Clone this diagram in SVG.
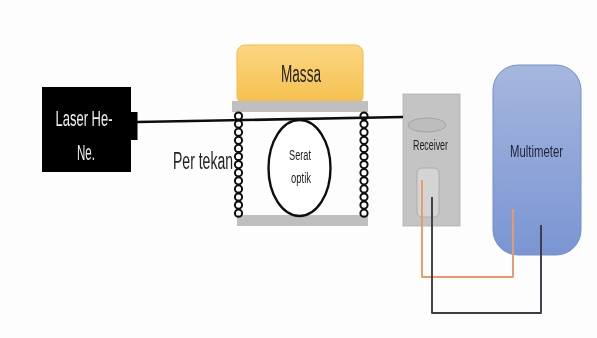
<svg xmlns="http://www.w3.org/2000/svg" width="597" height="338" viewBox="0 0 597 338">
<style>
text{font-family:"Liberation Sans",Arial,sans-serif;text-anchor:middle;fill:#222}
.plate{fill:#bfbfbf}
.coil{fill:none;stroke:#111;stroke-width:2}
.wire{fill:none;stroke-width:1.9;stroke-linejoin:round}
</style>
<defs>
<linearGradient id="mass" x1="0" y1="0" x2="0" y2="1"><stop offset="0" stop-color="#fbd681"/><stop offset="1" stop-color="#f6c04f"/></linearGradient>
<linearGradient id="multi" x1="0" y1="0" x2="0" y2="1"><stop offset="0" stop-color="#a6b7de"/><stop offset="1" stop-color="#7a95d3"/></linearGradient>
<filter id="soft" x="-5%" y="-5%" width="110%" height="110%"><feGaussianBlur stdDeviation="0.45"/></filter>
<g id="coilL">
<circle class="coil" cx="0" cy="0" r="3.6"/><circle class="coil" cx="0" cy="8.1" r="3.6"/><circle class="coil" cx="0" cy="16.2" r="3.6"/><circle class="coil" cx="0" cy="24.3" r="3.6"/><circle class="coil" cx="0" cy="32.4" r="3.6"/><circle class="coil" cx="0" cy="40.5" r="3.6"/><circle class="coil" cx="0" cy="48.6" r="3.6"/><circle class="coil" cx="0" cy="56.7" r="3.6"/><circle class="coil" cx="0" cy="64.8" r="3.6"/><circle class="coil" cx="0" cy="72.9" r="3.6"/><circle class="coil" cx="0" cy="81" r="3.6"/><circle class="coil" cx="0" cy="89.1" r="3.6"/><circle class="coil" cx="0" cy="97.2" r="3.6"/>
</g>
</defs>
<rect width="597" height="338" fill="#fdfdfd"/>
<g filter="url(#soft)">
<g id="laser">
<rect x="42" y="87" width="89" height="85" fill="#000"/>
<rect x="130" y="112" width="7.5" height="28" fill="#000"/>
<text x="84" y="126" font-size="22" style="fill:#eee" textLength="57" lengthAdjust="spacingAndGlyphs">Laser He-</text>
<text x="86" y="160" font-size="22" style="fill:#eee" textLength="18" lengthAdjust="spacingAndGlyphs">Ne.</text>
</g>
<g id="massa">
<rect x="237" y="45" width="126" height="59" rx="8" fill="url(#mass)" stroke="#f4bd45" stroke-width="1"/>
<text x="301" y="82" font-size="23" textLength="40" lengthAdjust="spacingAndGlyphs">Massa</text>
</g>
<g id="plat-atas"><rect class="plate" x="232" y="101" width="136" height="11"/></g>
<g id="plat-bawah"><rect class="plate" x="237" y="215" width="131" height="11"/></g>
<g id="pegas-kiri"><use href="#coilL" x="238.5" y="116"/></g>
<g id="pegas-kanan"><use href="#coilL" x="364" y="116"/></g>
<g id="per-tekan"><text x="203" y="169" font-size="23" textLength="60" lengthAdjust="spacingAndGlyphs">Per tekan</text></g>
<g id="serat-optik">
<ellipse cx="299.5" cy="168" rx="31" ry="48" fill="#fff" stroke="#111" stroke-width="2.4"/>
<text x="300" y="160" font-size="14" textLength="22" lengthAdjust="spacingAndGlyphs">Serat</text>
<text x="301" y="183" font-size="14" textLength="20" lengthAdjust="spacingAndGlyphs">optik</text>
</g>
<g id="receiver">
<rect x="403" y="94" width="57" height="132" fill="#c4c4c4" stroke="#b0b0b0" stroke-width="0.8"/>
<ellipse cx="427" cy="125" rx="19" ry="7" fill="#bdbdbd" stroke="#a3a3a3" stroke-width="1"/>
<text x="430.5" y="150" font-size="14.5" textLength="35" lengthAdjust="spacingAndGlyphs">Receiver</text>
<rect x="417" y="168" width="22" height="49" rx="5" fill="#d4d4d4" stroke="#acacac" stroke-width="1"/>
</g>
<g id="multimeter">
<rect x="493" y="65" width="88" height="190" rx="25" fill="url(#multi)" stroke="#6f8fcf" stroke-width="1"/>
<text x="536.5" y="157" font-size="17" style="fill:#1c2436" textLength="53" lengthAdjust="spacingAndGlyphs">Multimeter</text>
</g>
<g id="connectors">
<line x1="137" y1="122" x2="403" y2="117" stroke="#111" stroke-width="2.6"/>
<polyline class="wire" stroke="#ea9a68" points="422,180 422,277 513,277 513,209"/>
<polyline class="wire" stroke="#3a3d45" points="432,197 432,313 541,313 541,225"/>
</g>
</g>
</svg>
